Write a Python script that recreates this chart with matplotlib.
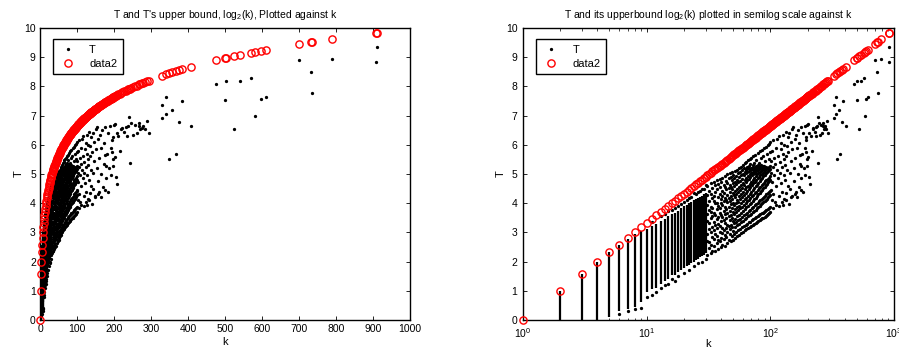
import numpy as np
import matplotlib
matplotlib.use("Agg")
import matplotlib.pyplot as plt

plt.rcParams["font.family"] = ["Liberation Sans", "DejaVu Sans"]
plt.rcParams["mathtext.fontset"] = "custom"
plt.rcParams["mathtext.rm"] = "Liberation Sans"
plt.rcParams["mathtext.it"] = "Liberation Sans:italic"

# ---- entropy-like measure T for each observed alphabet size k ----
# dense columns of T for small k: lowest and highest T per k
col_k = list(range(1, 31))
col_lo = [0.00, 0.00, 0.00, 0.00, 0.10, 0.30, 0.38, 0.46, 0.63, 0.95,
          1.05, 1.08, 1.25, 1.35, 1.42, 1.55, 1.55, 1.65, 1.70, 1.77,
          1.85, 1.88, 1.95, 2.00, 2.05, 2.10, 2.15, 2.20, 2.22, 2.28]
col_hi = [0.00, 1.00, 1.58, 2.00, 2.32, 2.58, 2.78, 2.95, 3.05, 3.12,
          3.22, 3.30, 3.38, 3.45, 3.55, 3.62, 3.68, 3.75, 3.82, 3.90,
          3.95, 4.00, 4.05, 4.10, 4.15, 4.18, 4.22, 4.26, 4.30, 4.35]

# isolated values around the small-k columns
edge_k = [6, 7, 8, 9, 10, 11, 12, 13, 14, 15, 16, 17, 18, 20, 22, 24, 26, 28, 30,
          11, 13, 14, 15, 16, 17, 18, 19, 20, 21, 22, 23, 24, 25, 26, 27, 28, 29, 30]
edge_t = [0.22, 0.30, 0.38, 0.40, 0.80, 0.85, 0.95, 1.10, 1.20, 1.25, 1.40, 1.35,
          1.50, 1.60, 1.70, 1.85, 1.95, 2.00, 2.10,
          3.35, 3.55, 3.62, 3.72, 3.78, 3.85, 3.92, 3.98, 4.05, 4.10, 4.18, 4.22,
          4.35, 4.30, 4.40, 4.42, 4.48, 4.50, 4.62]

# main cloud, k = 31 .. 100
cloud_k = list(range(31, 101))
cloud_t = [
    [2.24, 2.71, 2.93, 3.40, 3.62, 3.95, 4.28, 4.60],
    [2.47, 2.66, 3.12, 3.31, 3.78, 4.06, 4.41],
    [2.29, 2.58, 3.02, 3.49, 3.71, 3.88, 4.33, 4.69],
    [2.38, 2.85, 3.18, 3.56, 3.83, 4.17, 4.52],
    [2.55, 2.79, 3.07, 3.36, 3.67, 4.09, 4.24, 4.74],
    [2.36, 2.94, 3.25, 3.61, 3.99, 4.38, 4.61],
    [2.62, 2.88, 3.14, 3.45, 3.80, 4.02, 4.47, 4.79],
    [2.44, 2.75, 3.29, 3.52, 3.91, 4.21, 4.66],
    [2.70, 3.03, 3.21, 3.68, 3.85, 4.30, 4.55, 4.83],
    [2.49, 2.82, 3.38, 3.59, 4.01, 4.14, 4.72],
    [2.58, 2.97, 3.16, 3.53, 3.94, 4.25, 4.43, 4.88],
    [2.77, 3.09, 3.44, 3.73, 4.08, 4.36, 4.62],
    [2.52, 2.91, 3.33, 3.62, 3.86, 4.19, 4.57, 4.93],
    [2.84, 3.15, 3.49, 3.79, 4.12, 4.48, 4.76],
    [2.63, 3.02, 3.27, 3.66, 4.03, 4.29, 4.68, 4.99],
    [2.74, 3.21, 3.56, 3.88, 4.17, 4.51, 4.85],
    [2.96, 3.11, 3.42, 3.75, 4.07, 4.40, 4.63, 5.03],
    [2.69, 3.26, 3.61, 3.97, 4.24, 4.55, 4.90],
    [2.88, 3.19, 3.50, 3.83, 4.14, 4.47, 4.78, 5.07],
    [2.73, 3.06, 3.38, 3.71, 4.02, 4.35, 4.69, 4.97],
    [2.95, 3.31, 3.64, 3.93, 4.28, 4.59, 4.86],
    [2.80, 3.17, 3.46, 3.81, 4.20, 4.43, 4.74, 5.11],
    [3.02, 3.36, 3.69, 3.99, 4.32, 4.66, 4.94],
    [2.86, 3.24, 3.55, 3.87, 4.11, 4.50, 4.81, 5.15],
    [3.08, 3.41, 3.77, 4.05, 4.38, 4.71, 5.02],
    [2.92, 3.29, 3.60, 3.92, 4.26, 4.56, 4.89, 5.19],
    [3.13, 3.47, 3.82, 4.16, 4.44, 4.77, 5.06],
    [2.98, 3.34, 3.66, 4.00, 4.33, 4.62, 4.95, 5.24],
    [3.18, 3.52, 3.87, 4.22, 4.51, 4.83, 5.12],
    [3.03, 3.40, 3.72, 4.08, 4.39, 4.69, 5.00, 5.30],
    [3.22, 3.58, 3.95, 4.29, 4.64, 4.97, 5.21],
    [3.07, 3.45, 3.80, 4.13, 4.47, 4.78, 5.08, 5.36],
    [3.26, 3.63, 4.02, 4.36, 4.72, 5.02, 5.17],
    [3.11, 3.50, 3.86, 4.19, 4.55, 4.88, 5.13, 5.42],
    [3.30, 3.68, 4.07, 4.41, 4.79, 5.06, 5.24],
    [3.15, 3.55, 3.91, 4.25, 4.60, 4.93, 5.19, 5.47],
    [3.34, 3.73, 4.12, 4.48, 4.84, 5.10, 5.28],
    [3.19, 3.60, 3.96, 4.32, 4.67, 4.99, 5.15, 5.51],
    [3.37, 3.77, 4.17, 4.54, 4.90, 5.12, 5.33],
    [3.23, 3.64, 4.01, 4.38, 4.73, 5.04, 5.22, 5.55],
    [3.41, 3.83, 4.23, 4.61, 4.96, 5.18],
    [3.26, 3.70, 4.09, 4.45, 4.81, 5.08, 5.30, 5.60],
    [3.45, 3.88, 4.29, 4.68, 5.01, 5.24],
    [3.30, 3.74, 4.14, 4.52, 4.88, 5.14, 5.37],
    [3.49, 3.93, 4.34, 4.74, 5.05, 5.21, 5.66],
    [3.33, 3.78, 4.19, 4.58, 4.94, 5.17],
    [3.53, 3.98, 4.40, 4.80, 5.09, 5.27, 5.49],
    [3.36, 3.83, 4.24, 4.64, 4.99, 5.20],
    [3.56, 4.02, 4.46, 4.86, 5.13, 5.31, 5.72],
    [3.39, 3.87, 4.30, 4.70, 5.03, 5.24],
    [3.59, 4.06, 4.51, 4.91, 5.16, 5.38],
    [3.42, 3.92, 4.35, 4.76, 5.07, 5.27, 5.78],
    [3.62, 4.10, 4.56, 4.96, 5.19],
    [3.45, 3.96, 4.41, 4.82, 5.11, 5.31, 5.55],
    [3.65, 4.14, 4.61, 5.00, 5.22, 5.83],
    [3.48, 4.00, 4.46, 4.87, 5.14],
    [3.68, 4.18, 4.66, 5.04, 5.26, 5.62],
    [3.51, 4.04, 4.51, 4.92, 5.18],
    [3.71, 4.22, 4.70, 5.08, 5.29, 5.88],
    [3.54, 4.08, 4.56, 4.97, 5.21],
    [3.74, 4.26, 4.75, 5.12, 5.44],
    [3.57, 4.12, 4.61, 5.02, 5.25, 5.93],
    [3.77, 4.30, 4.80, 5.16],
    [3.60, 4.16, 4.66, 5.06, 5.68],
    [3.80, 4.34, 4.84, 5.19, 5.98],
    [3.63, 4.20, 4.71, 5.10],
    [3.83, 4.38, 4.88, 5.23, 5.52],
    [3.66, 4.24, 4.76, 5.14, 6.04],
    [3.86, 4.42, 4.92, 5.27, 5.74],
    [3.69, 4.28, 4.81, 5.18, 6.10],
]

# scattered values for k = 101 .. 300
mid_k = [101, 101, 102, 103, 103, 104, 105, 106, 106, 107, 108, 109, 110, 111,
         112, 113, 114, 115, 116, 117, 118, 119, 120, 121, 122, 123, 124, 125,
         126, 127, 128, 129, 130, 130, 131, 132, 133, 134, 135, 136, 137, 138,
         139, 140, 142, 143, 144, 146, 147, 148, 150, 151, 153, 154, 156, 157,
         159, 160, 162, 164, 166, 168, 170, 172, 174, 175, 176, 178, 178, 180,
         183, 186, 189, 191, 192, 194, 195, 196, 197, 198, 199, 202, 203, 205,
         207, 208, 212, 216, 220, 222, 228, 232, 234, 239, 241, 243, 246, 252,
         257, 261, 268, 268, 270, 276, 279, 284, 288, 294,
         105, 112, 118, 125, 127, 133, 141, 149, 158, 165, 176, 185]
mid_t = [4.45, 5.45, 5.05, 4.10, 5.80, 4.72, 5.25, 6.15, 4.30, 5.55, 4.95, 4.05,
         5.35, 5.90, 4.60, 5.15, 6.20, 4.85, 5.62, 6.30, 4.25, 5.40, 5.05, 5.85,
         4.70, 6.05, 5.25, 4.40, 5.70, 6.35, 4.95, 5.50, 4.15, 6.00, 5.30, 4.80,
         6.45, 5.60, 4.35, 5.95, 5.15, 6.25, 4.60, 5.75, 6.40, 5.05, 4.50, 6.10,
         5.45, 4.20, 6.55, 5.85, 6.62, 5.20, 4.75, 6.20, 5.55, 4.40, 6.35, 5.90,
         5.00, 6.50, 4.55, 6.05, 5.35, 5.66, 6.60, 4.85, 5.29, 5.70, 6.40, 5.20,
         6.65, 5.88, 4.95, 5.77, 6.15, 6.28, 5.26, 5.50, 6.69, 5.58, 6.72, 4.90,
         6.40, 4.65, 6.30, 5.80, 6.55, 6.57, 6.45, 6.60, 6.31, 6.63, 6.95, 5.39,
         6.75, 6.34, 6.69, 6.40, 6.74, 6.65, 6.55, 6.57, 6.65, 6.54, 6.80, 6.40,
         3.85, 3.95, 3.90, 4.05, 3.94, 4.10, 3.98, 4.25, 4.30, 4.20, 4.45, 4.40]

# few large k
far_k = [329, 329, 341, 341, 348, 357, 368, 377, 385, 409, 475, 499, 502, 525,
         541, 570, 582, 596, 612, 701, 733, 736, 788, 908, 912]
far_t = [7.37, 6.92, 7.07, 7.62, 5.53, 7.18, 5.67, 6.79, 7.51, 6.63, 8.08, 7.53,
         8.18, 6.55, 8.19, 8.30, 6.99, 7.57, 7.64, 8.91, 8.50, 7.77, 8.94, 8.83,
         9.36]

# ---- assemble point series ----
pts_k = list(edge_k) + list(mid_k) + list(far_k)
pts_t = list(edge_t) + list(mid_t) + list(far_t)
for k, ts in zip(cloud_k, cloud_t):
    pts_k += [k] * len(ts)
    pts_t += ts
pts_k = np.array(pts_k, dtype=float)
pts_t = np.array(pts_t, dtype=float)

# upper bound log2(k) at every observed k
bound_k = np.unique(np.concatenate([np.array(col_k, float), pts_k]))
bound_t = np.log2(bound_k)

fig = plt.figure(figsize=(8.99, 3.51), dpi=100)
ax1 = fig.add_axes([40 / 899, 31 / 351, 370 / 899, 292 / 351])
ax2 = fig.add_axes([523 / 899, 31 / 351, 371 / 899, 292 / 351])

titles = ["T and T's upper bound, log$_2$(k), Plotted against k",
          "T and its upperbound log$_2$(k) plotted in semilog scale against k"]

for ax, title in zip((ax1, ax2), titles):
    ax.vlines(col_k, col_lo, col_hi, colors="k", linewidths=1.6, zorder=2)
    hT, = ax.plot(pts_k, pts_t, linestyle="none", marker=".", color="k",
                  markersize=2.7, label="T", zorder=2)
    hB, = ax.plot(bound_k, bound_t, linestyle="none", marker="o",
                  markerfacecolor="none", markeredgecolor="red",
                  markeredgewidth=1.0, markersize=5.2, label="data2",
                  clip_on=False, zorder=3)
    ax.set_ylim(0, 10)
    ax.set_yticks(range(0, 11))
    ax.set_ylabel("T", fontsize=8, labelpad=0)
    ax.set_title(title, fontsize=7.5, pad=7)
    ax.tick_params(direction="in", top=True, right=True, labelsize=7.5,
                   length=3, width=0.6, pad=3)
    ax.tick_params(which="minor", direction="in", top=True, right=True,
                   length=1.8, width=0.5)
    for sp in ax.spines.values():
        sp.set_linewidth(1.0)
    leg = ax.legend(handles=[hT, hB], loc="upper left",
                    bbox_to_anchor=(0.034, 0.962), borderaxespad=0,
                    fancybox=False, framealpha=1, edgecolor="black",
                    fontsize=8, handlelength=1.8, handletextpad=1.0,
                    borderpad=0.5, labelspacing=0.35)
    leg.get_frame().set_linewidth(1.0)

ax1.set_xlim(0, 1000)
ax1.set_xticks(range(0, 1001, 100))
ax1.set_xlabel("k", fontsize=8, labelpad=2)

ax2.set_xscale("log")
ax2.set_xlim(1, 1000)
ax2.tick_params(axis="x", pad=4.5)
ax2.tick_params(axis="y", pad=4)
ax2.set_xlabel("k", fontsize=8, labelpad=-1)

fig.savefig("out.png", dpi=100)
